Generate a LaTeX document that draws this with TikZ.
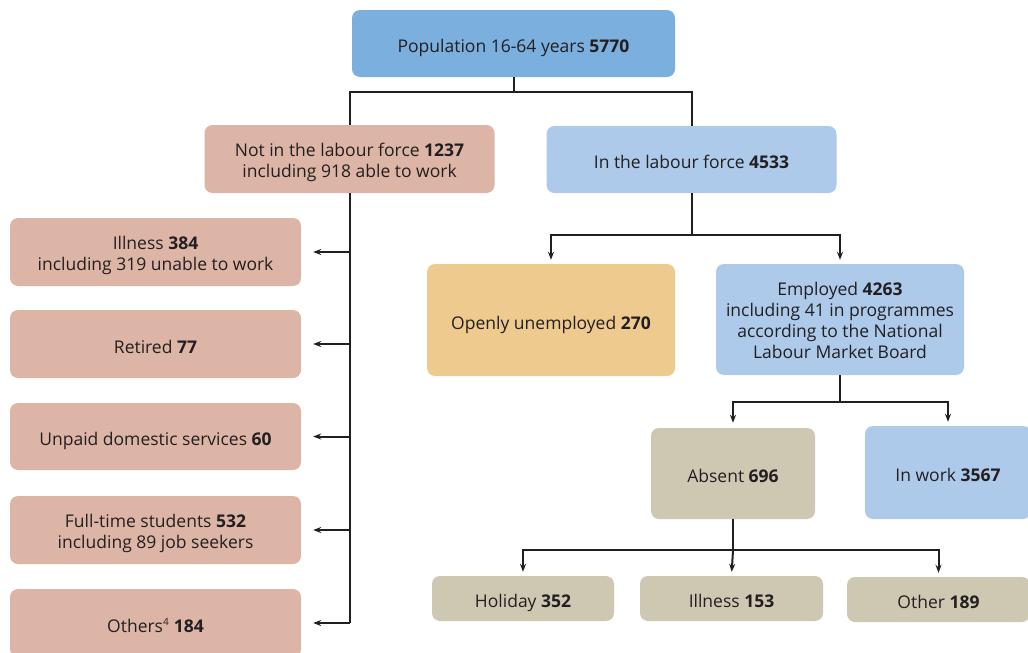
\documentclass[tikz,border=0pt]{standalone}
\usepackage{fontspec}
\setmainfont{Open Sans}
\usetikzlibrary{arrows.meta}

\definecolor{popblue}{HTML}{7BAFDE}
\definecolor{lfblue}{HTML}{ADCAEA}
\definecolor{nlfpink}{HTML}{DDB5A7}
\definecolor{unempor}{HTML}{EFCA8E}
\definecolor{absbeige}{HTML}{CEC8B3}
\definecolor{ink}{HTML}{231F20}

% struts that keep every label at the same optical height in its box
\newcommand{\topstrut}{\rule[-4.5pt]{0pt}{27.5pt}}
\newcommand{\botstrut}{\rule[-4.5pt]{0pt}{10pt}}
% centred block of several lines, set a little low like the one-line labels
\newcommand{\stack}[1]{\raisebox{-3.5pt}[\height][\depth]{\begin{tabular}{@{}c@{}}#1\end{tabular}}}

\tikzset{
  box/.style={rectangle, rounded corners=8pt, draw=none, fill=#1, text=ink,
    align=center, inner sep=2pt,
    font=\fontsize{17.5}{21}\selectfont,
    execute at begin node=\topstrut, execute at end node=\botstrut},
  link/.style={draw=ink, line width=2pt},
  arr/.style={link, -{Stealth[length=8pt,width=6pt]}},
}

\begin{document}
\begin{tikzpicture}[x=1pt,y=-1pt]
\useasboundingbox (0,0) rectangle (1028,653);
\clip (0,0) rectangle (1028,653);

% top level
\node[box=popblue, minimum width=323pt, minimum height=67pt] (pop) at (513.5,43.5)
  {Population 16-64 years \textbf{5770}};

\node[box=nlfpink, minimum width=290pt, minimum height=68pt] (nlf) at (349.5,159)
  {\stack{Not in the labour force \textbf{1237}\\including 918 able to work}};
\node[box=lfblue, minimum width=290pt, minimum height=67pt] (lf) at (691.5,159.5)
  {In the labour force \textbf{4533}};

% outside the labour force
\node[box=nlfpink, minimum width=291pt, minimum height=68pt] (ill) at (155.5,252)
  {\stack{Illness \textbf{384}\\including 319 unable to work}};
\node[box=nlfpink, minimum width=291pt, minimum height=68pt] (ret) at (155.5,344)
  {Retired \textbf{77}};
\node[box=nlfpink, minimum width=291pt, minimum height=67pt] (dom) at (155.5,436.5)
  {Unpaid domestic services \textbf{60}};
\node[box=nlfpink, minimum width=291pt, minimum height=68pt] (stu) at (155.5,530)
  {\stack{Full-time students \textbf{532}\\including 89 job seekers}};
\node[box=nlfpink, minimum width=291pt, minimum height=68pt] (oth) at (155.5,623)
  {Others\textsuperscript{\fontsize{10}{10}\selectfont 4} \textbf{184}};

% labour force
\node[box=unempor, minimum width=248pt, minimum height=112pt] (unemp) at (551,320)
  {Openly unemployed \textbf{270}};
\node[box=lfblue, minimum width=248pt, minimum height=111pt] (emp) at (840,319.5)
  {\stack{Employed \textbf{4263}\\including 41 in programmes\\according to the National\\Labour Market Board}};

\node[box=absbeige, minimum width=164pt, minimum height=91pt] (abs) at (733,473.5)
  {Absent \textbf{696}};
\node[box=lfblue, minimum width=166pt, minimum height=93pt] (wrk) at (948,472.5)
  {In work \textbf{3567}};

\node[box=absbeige, minimum width=182pt, minimum height=45pt] (hol) at (523,598.5)
  {Holiday \textbf{352}};
\node[box=absbeige, minimum width=183pt, minimum height=45pt] (ill2) at (731.5,598.5)
  {Illness \textbf{153}};
\node[box=absbeige, minimum width=183pt, minimum height=45pt] (oth2) at (938.5,599.5)
  {Other \textbf{189}};

% connectors: population split
\draw[link] (pop.south) -- ++(0,15) coordinate (j1);
\draw[link] (j1) -| (nlf.north);
\draw[link] (j1) -| (lf.north);

% connectors: outside the labour force
\draw[link] (nlf.south) -- (nlf.south |- oth.east);
\foreach \t in {ill,ret,dom,stu,oth}
  \draw[arr, shorten >=12pt] (nlf.south |- \t.east) -- (\t.east);

% connectors: labour force
\draw[link] (lf.south) -- ++(0,42) coordinate (j2);
\draw[arr, shorten >=4pt] (j2) -| (unemp.north);
\draw[arr, shorten >=4pt] (j2) -| (emp.north);

% connectors: employed
\draw[link] (emp.south) -- ++(0,27) coordinate (j3);
\draw[arr, shorten >=5pt] (j3) -| (abs.north);
\draw[arr, shorten >=4pt] (j3) -| (wrk.north);

% connectors: absent
\draw[link] (abs.south) -- ++(0,31) coordinate (j4);
\draw[arr, shorten >=4pt] (j4) -| (hol.north);
\draw[arr, shorten >=4pt] (j4) -- (ill2.north);
\draw[arr, shorten >=4pt] (j4) -| (oth2.north);
\end{tikzpicture}
\end{document}
